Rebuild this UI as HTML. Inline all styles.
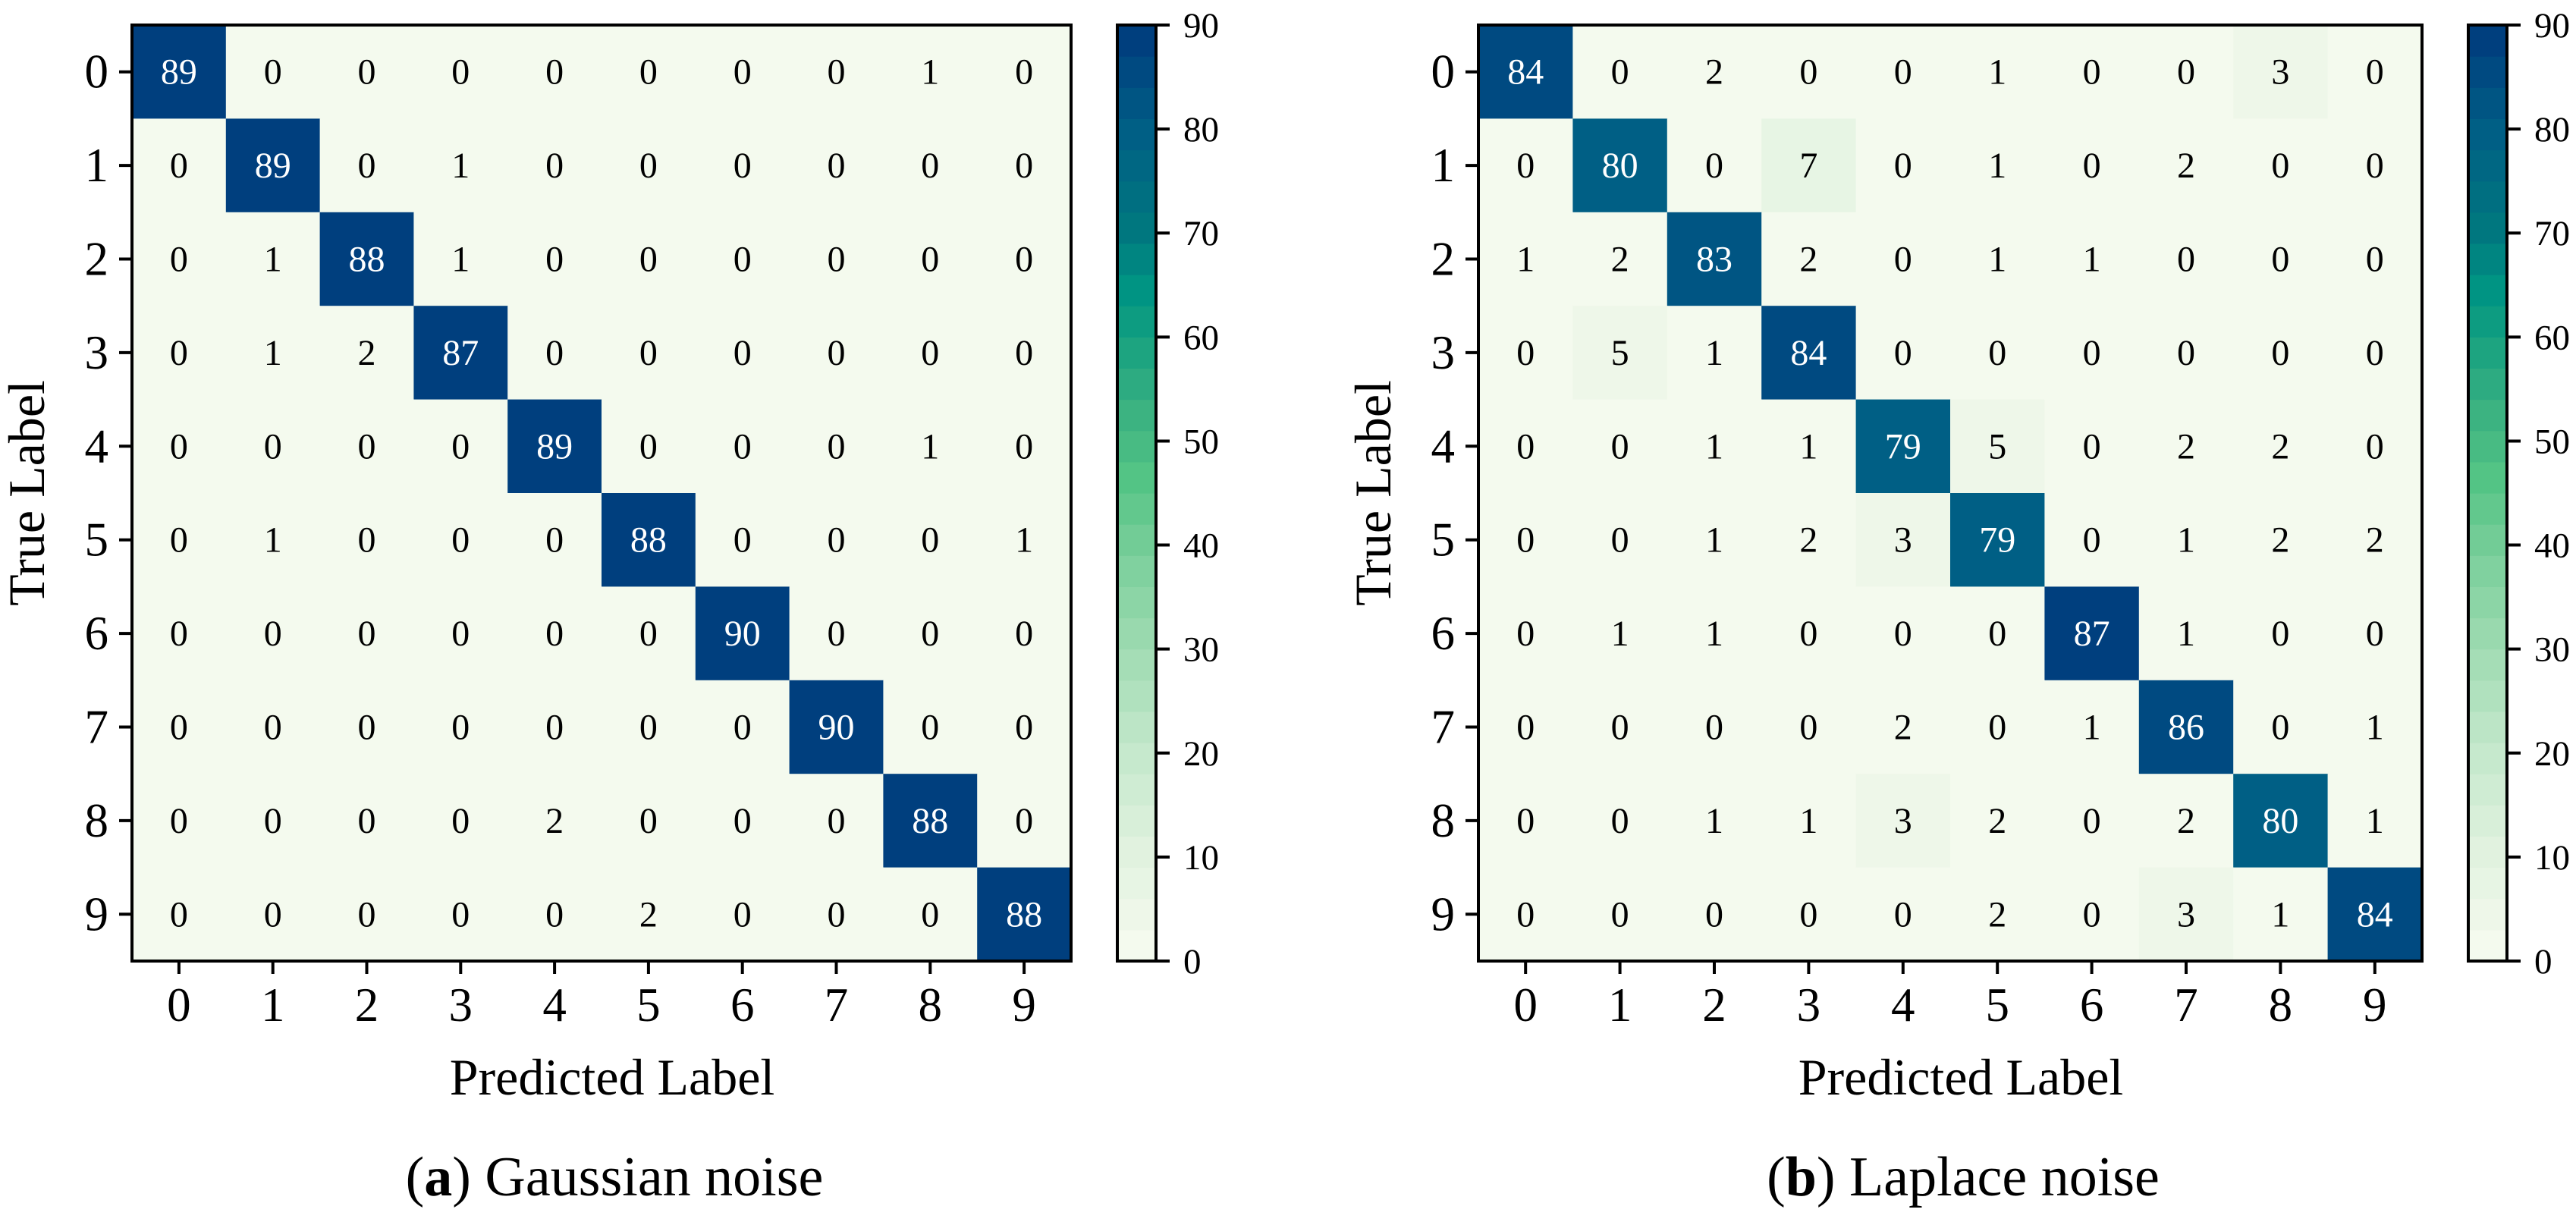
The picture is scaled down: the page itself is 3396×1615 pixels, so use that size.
<!DOCTYPE html>
<html><head><meta charset="utf-8">
<style>
html,body{margin:0;padding:0;background:#fff;}
svg, svg text{font-family:"Liberation Serif","DejaVu Serif",serif !important;}
</style></head>
<body>
<svg id="fig" width="3396" height="1610" viewBox="0 0 3396 1610" xmlns="http://www.w3.org/2000/svg" font-family="Liberation Serif, serif"></svg>
<script>
const labels = ['0','1','2','3','4','5','6','7','8','9'];
const gaussianMatrix = [
 [89,0,0,0,0,0,0,0,1,0],
 [0,89,0,1,0,0,0,0,0,0],
 [0,1,88,1,0,0,0,0,0,0],
 [0,1,2,87,0,0,0,0,0,0],
 [0,0,0,0,89,0,0,0,1,0],
 [0,1,0,0,0,88,0,0,0,1],
 [0,0,0,0,0,0,90,0,0,0],
 [0,0,0,0,0,0,0,90,0,0],
 [0,0,0,0,2,0,0,0,88,0],
 [0,0,0,0,0,2,0,0,0,88]
];
const laplaceMatrix = [
 [84,0,2,0,0,1,0,0,3,0],
 [0,80,0,7,0,1,0,2,0,0],
 [1,2,83,2,0,1,1,0,0,0],
 [0,5,1,84,0,0,0,0,0,0],
 [0,0,1,1,79,5,0,2,2,0],
 [0,0,1,2,3,79,0,1,2,2],
 [0,1,1,0,0,0,87,1,0,0],
 [0,0,0,0,2,0,1,86,0,1],
 [0,0,1,1,3,2,0,2,80,1],
 [0,0,0,0,0,2,0,3,1,84]
];
const colorbarTicks = [0,10,20,30,40,50,60,70,80,90];
const vmin = 0, vmax = 90;

const stops = [[0,'#f7fbf1'],[10,'#e2f3e0'],[20,'#c5e8cc'],[30,'#9fdbb2'],[40,'#75cd98'],[46,'#55c585'],[52,'#3fb481'],[60,'#15a080'],[64,'#009683'],[70,'#00787f'],[80,'#005e85'],[90,'#003a7d']];
function hex(c){return [1,3,5].map(i=>parseInt(c.substr(i,2),16));}
function cmapRaw(v){
  v=Math.max(vmin,Math.min(vmax,v));
  for(let i=1;i<stops.length;i++){
    if(v<=stops[i][0]){
      const [a,ca]=stops[i-1],[b,cb]=stops[i];
      const t=(v-a)/(b-a),A=hex(ca),B=hex(cb);
      return 'rgb('+A.map((x,k)=>Math.round(x+(B[k]-x)*t)).join(',')+')';
    }
  }
  return stops[stops.length-1][1];
}
const NB=30;
function cmap(v){ let b=Math.min(NB-1,Math.floor((v-vmin)/(vmax-vmin)*NB)); return cmapRaw(vmin+(b+0.5)*(vmax-vmin)/NB); }

const svg=document.getElementById('fig');
const NS='http://www.w3.org/2000/svg';
const FF='Liberation Serif, DejaVu Serif, serif';
function mk(tag,attrs,parent){const e=document.createElementNS(NS,tag);for(const k in attrs)e.setAttribute(k,attrs[k]);if(tag==='text')e.setAttribute('font-family',FF);(parent||svg).appendChild(e);return e;}

function drawPanel(matrix, ax, name, capBold, capText){
  const g=mk('g',{});
  
  
  const top=33, bottom=1267, n=labels.length;
  const cw=(ax.right-ax.left)/n, ch=(bottom-top)/n;
  const xS=i=>ax.left+i*cw, yS=i=>top+i*ch;
  for(let r=0;r<n;r++)for(let c=0;c<n;c++){
    const v=matrix[r][c];
    const rect=mk('rect',{x:xS(c),y:yS(r),width:cw+0.6,height:ch+0.6,fill:cmap(v)},g);
    
    
    const t=mk('text',{x:xS(c)+cw/2,y:yS(r)+ch/2+16,'text-anchor':'middle','font-size':48,fill:v>45?'#fff':'#000'},g);
    t.textContent=v;
    
    
  }
  const frame=mk('rect',{x:ax.left,y:top,width:ax.right-ax.left,height:bottom-top,fill:'none',stroke:'#000','stroke-width':4},g);
  
  
  labels.forEach((l,i)=>{
    mk('line',{x1:ax.left-17,x2:ax.left,y1:yS(i)+ch/2,y2:yS(i)+ch/2,stroke:'#000','stroke-width':4},g);
    const yt=mk('text',{x:ax.left-31,y:yS(i)+ch/2+21,'text-anchor':'end','font-size':63},g);
    yt.textContent=l;
    
    
    mk('line',{x1:xS(i)+cw/2,x2:xS(i)+cw/2,y1:bottom,y2:bottom+17,stroke:'#000','stroke-width':4},g);
    const xt=mk('text',{x:xS(i)+cw/2,y:1346,'text-anchor':'middle','font-size':63},g);
    xt.textContent=l;
    
    
  });
  const yl=mk('text',{x:0,y:0,'text-anchor':'middle','font-size':68,transform:'translate('+(ax.left-116)+',650) rotate(-90)'},g);
  yl.textContent='True Label';
  
  
  const xl=mk('text',{x:(ax.left+ax.right)/2+14,y:1443,'text-anchor':'middle','font-size':68},g);
  xl.textContent='Predicted Label';
  
  
  const cb={left:ax.right+61,right:ax.right+112};
  const cy=v=>bottom-(v-vmin)/(vmax-vmin)*(bottom-top);
  for(let b=0;b<NB;b++){
    const v0=vmin+b*(vmax-vmin)/NB, v1=vmin+(b+1)*(vmax-vmin)/NB;
    mk('rect',{x:cb.left,y:cy(v1),width:cb.right-cb.left,height:cy(v0)-cy(v1)+0.6,fill:cmap((v0+v1)/2)},g);
  }
  const cbf=mk('rect',{x:cb.left,y:top,width:cb.right-cb.left,height:bottom-top,fill:'none',stroke:'#000','stroke-width':4},g);
  
  
  colorbarTicks.forEach(v=>{
    mk('line',{x1:cb.right,x2:cb.right+18,y1:cy(v),y2:cy(v),stroke:'#000','stroke-width':4},g);
    const tl=mk('text',{x:cb.right+36,y:cy(v)+16,'font-size':47},g);
    tl.textContent=v;
    
    
  });
  const cap=mk('text',{x:(ax.left+ax.right)/2+17,y:1576,'text-anchor':'middle','font-size':74},g);
  
  
  const s1=mk('tspan',{},cap);s1.textContent='(';
  const s2=mk('tspan',{'font-weight':'bold'},cap);s2.textContent=capBold;
  const s3=mk('tspan',{},cap);s3.textContent=') '+capText;
}
drawPanel(gaussianMatrix,{left:174,right:1412},'gaussian','a','Gaussian noise');
drawPanel(laplaceMatrix,{left:1949,right:3193},'laplace','b','Laplace noise');
</script>
</body></html>
